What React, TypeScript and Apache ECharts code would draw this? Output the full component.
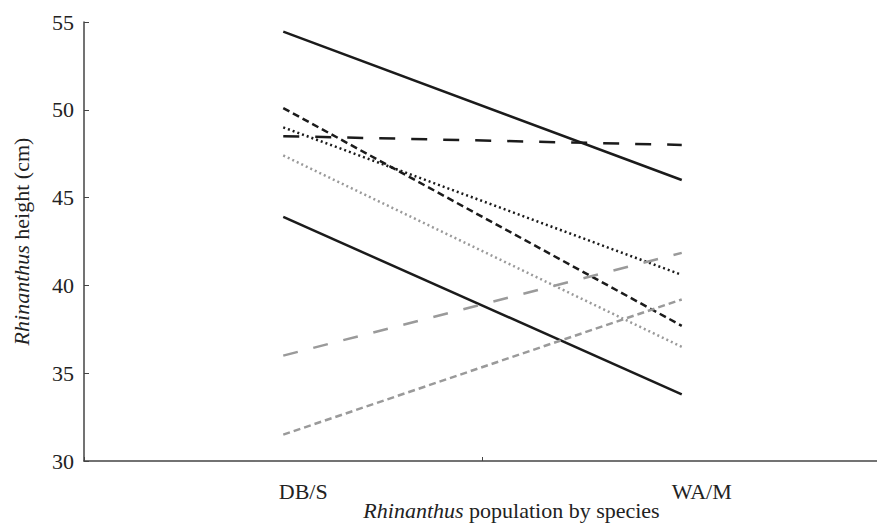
import React, { useEffect, useRef } from "react";
import * as echarts from "echarts";

const categories = ["DB/S", "WA/M"];
const yTicks = { min: 30, max: 55, interval: 5 };

const solidTop = [54.45, 46.0];
const solidLow = [43.9, 33.8];
const blackLongDash = [48.5, 48.0];
const blackDash = [50.1, 37.7];
const blackDot = [49.0, 40.6];
const grayDot = [47.4, 36.5];
const grayLongDash = [36.0, 41.85];
const grayDash = [31.5, 39.2];

const FONT = "'Liberation Serif', serif";
const BLACK = "#1b1b1b";
const GRAY = "#9a9a9a";

export default function App() {
  const ref = useRef<HTMLDivElement>(null);
  useEffect(() => {
    document.body.style.margin = "0";
    if (!ref.current) return;
    const chart = echarts.init(ref.current, undefined, { renderer: "svg" });
    const mk = (name: string, data: number[], color: string, type: any, width = 2.5) => ({
      name,
      type: "line",
      data,
      symbol: "none",
      silent: true,
      lineStyle: { color, width, type, cap: "butt" },
    });
    const textBase = { fontFamily: FONT, fontSize: 22, color: "#222" };
    chart.setOption({
      animation: false,
      backgroundColor: "#ffffff",
      grid: {
        left: 84,
        top: 22,
        width: 797,
        height: 439,
        containLabel: false,
        outerBoundsMode: "none",
      },
      xAxis: {
        type: "category",
        data: categories,
        boundaryGap: true,
        axisLine: { show: true, lineStyle: { color: "#444", width: 1.5 } },
        axisTick: { show: true, inside: true, length: 4, lineStyle: { color: "#444", width: 1 } },
        axisLabel: { ...textBase, margin: 19, padding: [0, 0, 0, 40] },
        splitLine: { show: false },
        name: "{i|Rhinanthus} population by species",
        nameLocation: "middle",
        nameGap: 38,
        nameMoveOverlap: false,
        nameTextStyle: {
          ...textBase,
          padding: [0, 0, 0, 58],
          rich: { i: { ...textBase, fontStyle: "italic" } },
        },
      },
      yAxis: {
        type: "value",
        min: yTicks.min,
        max: yTicks.max,
        interval: yTicks.interval,
        axisLine: { show: true, lineStyle: { color: "#444", width: 1.5 } },
        axisTick: { show: true, inside: true, length: 5, lineStyle: { color: "#444", width: 1 } },
        axisLabel: { ...textBase, margin: 10 },
        splitLine: { show: false },
        name: "{i|Rhinanthus} height (cm)",
        nameLocation: "middle",
        nameGap: 52,
        nameTextStyle: {
          ...textBase,
          rich: { i: { ...textBase, fontStyle: "italic" } },
        },
      },
      series: [
        mk("solidTop", solidTop, BLACK, "solid"),
        mk("solidLow", solidLow, BLACK, "solid"),
        mk("blackLongDash", blackLongDash, BLACK, [16, 16]),
        mk("blackDash", blackDash, BLACK, [7, 4]),
        mk("blackDot", blackDot, BLACK, [2, 3]),
        mk("grayDot", grayDot, GRAY, [2, 3]),
        mk("grayLongDash", grayLongDash, GRAY, [15, 16]),
        mk("grayDash", grayDash, GRAY, [7, 4]),
      ],
    });
    return () => chart.dispose();
  }, []);
  return (
    <div
      ref={ref}
      style={{ position: "fixed", left: 0, top: 0, width: 877, height: 526, background: "#fff" }}
    />
  );
}
